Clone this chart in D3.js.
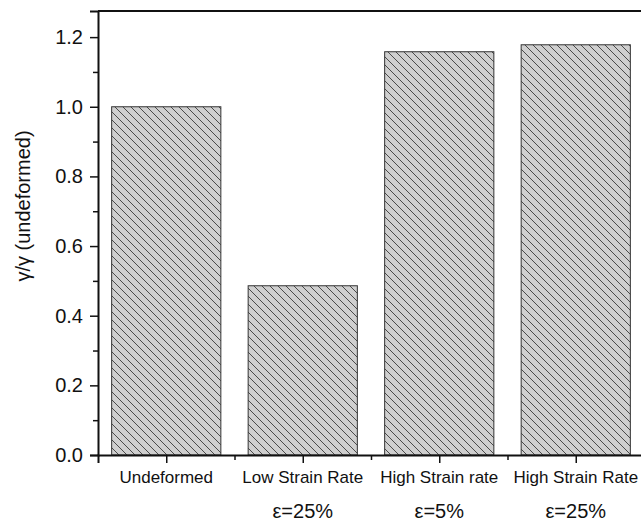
<!DOCTYPE html>
<html>
<head>
<meta charset="utf-8">
<script src="https://cdn.jsdelivr.net/npm/d3@7"></script>
<style>
  body { margin: 0; background: #fff; }
  svg text { font-family: "Liberation Sans", Arial, sans-serif; fill: #111; }
</style>
</head>
<body>
<script>
// bar chart: gamma ratio per deformation state

var categories = ["Undeformed", "Low Strain Rate", "High Strain rate", "High Strain Rate"],
    strains = ["", "\u03b5=25%", "\u03b5=5%", "\u03b5=25%"],
    values = [1.0, 0.486, 1.158, 1.178],
    yTicks = [0, 0.2, 0.4, 0.6, 0.8, 1.0, 1.2],
    yMinor = [0.1, 0.3, 0.5, 0.7, 0.9, 1.1];

var width = 641,
    height = 522,
    plotLeft = 98, plotRight = 644, plotTop = 11, plotBottom = 455; // window.top is read-only, so no "top"

var svg = d3.select("body").append("svg")
    .attr("width", width)
    .attr("height", height);

// hatch pattern, "\\\" lines on light grey
var defs = svg.append("defs");
var pat = defs.append("pattern")
    .attr("id", "hatch")
    .attr("patternUnits", "userSpaceOnUse")
    .attr("width", 8)
    .attr("height", 8);
pat.append("rect").attr("width", 8).attr("height", 8).attr("fill", "#cfcfcf");
pat.append("path")
    .attr("d", "M-2,-2 L10,10 M-2,6 L2,10 M6,-2 L10,2")
    .attr("stroke", "#4a4a4a")
    .attr("stroke-width", 1);

var x = d3.scaleLinear().domain([0.5, 4.5]).range([plotLeft, plotRight]);
var y = d3.scaleLinear().domain([0, 1.275]).range([plotBottom, plotTop]);

// bars
svg.selectAll(".bar")
    .data(values)
  .enter().append("rect")
    .attr("class", "bar")
    .attr("x", function(d, i) { return x(i + 1 - 0.4); })
    .attr("width", function() { return x(1.4) - x(0.6); })
    .attr("y", function(d) { return y(d); })
    .attr("height", function(d) { return y(0) - y(d); })
    .attr("fill", "url(#hatch)")
    .attr("stroke", "#333")
    .attr("stroke-width", 1);

// y axis, major + minor
var yAxis = svg.append("g")
    .attr("transform", "translate(" + plotLeft + ",0)")
    .call(d3.axisLeft(y).tickValues(yTicks).tickSize(8).tickPadding(7).tickFormat(d3.format(".1f")));
yAxis.selectAll("text").style("font-size", "20px");
svg.append("g")
    .attr("transform", "translate(" + plotLeft + ",0)")
    .call(d3.axisLeft(y).tickValues(yMinor).tickSize(5).tickFormat(""))
    .select(".domain").remove();

// x axis, major at categories, minor in between
svg.append("g")
    .attr("transform", "translate(0," + plotBottom + ")")
    .call(d3.axisBottom(x).tickValues([1, 2, 3, 4]).tickSize(8).tickFormat(""));
svg.append("g")
    .attr("transform", "translate(0," + plotBottom + ")")
    .call(d3.axisBottom(x).tickValues([1.5, 2.5, 3.5]).tickSize(5).tickFormat(""))
    .select(".domain").remove();

svg.selectAll(".domain").attr("stroke", "#111").attr("stroke-width", 2);
svg.selectAll(".tick line").attr("stroke", "#111").attr("stroke-width", 1.5);

// top frame line
svg.append("line")
    .attr("x1", plotLeft).attr("x2", plotRight)
    .attr("y1", plotTop).attr("y2", plotTop)
    .attr("stroke", "#111")
    .attr("stroke-width", 2);

// category labels
svg.selectAll(".cat")
    .data(categories)
  .enter().append("text")
    .attr("class", "cat")
    .attr("x", function(d, i) { return x(i + 1); })
    .attr("y", 483)
    .attr("text-anchor", "middle")
    .style("font-size", "17px")
    .text(function(d) { return d; });

svg.selectAll(".strain")
    .data(strains)
  .enter().append("text")
    .attr("class", "strain")
    .attr("x", function(d, i) { return x(i + 1); })
    .attr("y", 518)
    .attr("text-anchor", "middle")
    .style("font-size", "20px")
    .text(function(d) { return d; });

// y label
svg.append("text")
    .attr("transform", "translate(30,206) rotate(-90)")
    .attr("text-anchor", "middle")
    .style("font-size", "20px")
    .text("\u03b3/\u03b3 (undeformed)");
</script>
</body>
</html>
